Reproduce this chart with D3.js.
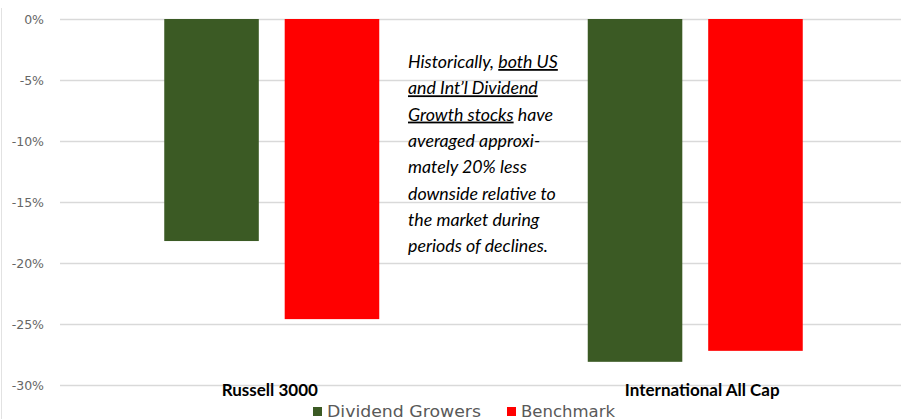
<!DOCTYPE html>
<html>
<head>
<meta charset="utf-8">
<script src="https://cdn.jsdelivr.net/npm/d3@7"></script>
<style>
  body { margin: 0; background: #fff; }
  svg { display: block; }
</style>
</head>
<body>
<div id="chart"></div>
<script>
// Chart size, matches the browser window
var w = 901,
    h = 419;

// Data
var categories = ["Russell 3000", "International All Cap"],
    seriesNames = ["Dividend Growers", "Benchmark"],
    seriesColors = ["#3b5a24", "#ff0000"],
    dividendGrowers = [-18.2, -28.1],
    benchmark = [-24.6, -27.2],
    yTicks = [0, -5, -10, -15, -20, -25, -30];

var noteLines = [
    [["Historically, ", false], ["both US", true]],
    [["and Int\u2019l Dividend", true]],
    [["Growth stocks", true], [" have", false]],
    [["averaged approxi-", false]],
    [["mately 20% less", false]],
    [["downside relative to", false]],
    [["the market during", false]],
    [["periods of declines.", false]]
];

var rows = categories.map(function (c, i) {
    return { category: c, values: [dividendGrowers[i], benchmark[i]] };
});

var svg = d3.select("#chart")
    .append("svg")
    .attr("width", w)
    .attr("height", h);

// Plot area runs past the right edge, like the cropped original
var x0 = d3.scaleBand()
    .domain(categories)
    .range([60, 907]);

var x1 = d3.scaleBand()
    .domain(seriesNames)
    .range([0, 215])
    .paddingInner(0.215);

var y = d3.scaleLinear()
    .domain([-30, 0])
    .range([385, 19]);

// Faint ruler line at the left edge
svg.append("line")
    .attr("x1", 1.5).attr("x2", 1.5)
    .attr("y1", 8).attr("y2", h)
    .attr("stroke", "#e2e2e2");

// Gridlines
svg.append("g")
    .selectAll("line")
    .data(yTicks)
    .enter()
    .append("line")
    .attr("x1", 60)
    .attr("x2", w)
    .attr("y1", function (d) { return Math.round(y(d)) + 0.5; })
    .attr("y2", function (d) { return Math.round(y(d)) + 0.5; })
    .attr("stroke", "#d9d9d9")
    .attr("stroke-width", 1.3);

// Y axis labels
var yAxis = d3.axisLeft(y)
    .tickValues(yTicks)
    .tickSize(0)
    .tickPadding(0)
    .tickFormat(function (d) { return d + "%"; });

var yg = svg.append("g")
    .attr("transform", "translate(44,0)")
    .call(yAxis);
yg.select(".domain").remove();
yg.selectAll("text")
    .attr("fill", "#666")
    .style("font-family", "'DejaVu Sans', Verdana, sans-serif")
    .style("font-size", "12.5px");

// Bars
var groups = svg.append("g")
    .selectAll("g.group")
    .data(rows)
    .enter()
    .append("g")
    .attr("class", "group")
    .attr("transform", function (d) {
        return "translate(" + (x0(d.category) + (x0.bandwidth() - 215) / 2) + ",0)";
    });

groups.selectAll("rect")
    .data(function (d) {
        return d.values.map(function (v, i) { return { name: seriesNames[i], value: v, color: seriesColors[i] }; });
    })
    .enter()
    .append("rect")
    .attr("x", function (d) { return x1(d.name); })
    .attr("width", x1.bandwidth())
    .attr("y", y(0))
    .attr("height", function (d) { return y(d.value) - y(0); })
    .attr("fill", function (d) { return d.color; });

// Category labels
svg.append("g")
    .selectAll("text")
    .data(categories)
    .enter()
    .append("text")
    .attr("x", function (d) { return x0(d) + x0.bandwidth() / 2 + (d === categories[1] ? 7 : -2); })
    .attr("y", 396)
    .attr("text-anchor", "middle")
    .style("font-family", "Lato, 'Open Sans', sans-serif")
    .style("font-weight", "bold")
    .style("font-size", "17px")
    .attr("fill", "#000")
    .text(function (d) { return d; });

// Annotation text with underlined phrases
var note = svg.append("text")
    .style("font-family", "Lato, 'Open Sans', sans-serif")
    .style("font-style", "italic")
    .style("font-size", "17.8px")
    .attr("fill", "#000");

noteLines.forEach(function (line, i) {
    line.forEach(function (part, j) {
        var t = note.append("tspan")
            .text(part[0])
            .style("text-decoration", part[1] ? "underline" : null);
        if (j === 0) t.attr("x", 408).attr("y", 68 + i * 26.3);
    });
});

// Legend
var legend = svg.append("g")
    .style("font-family", "'DejaVu Sans', Verdana, sans-serif")
    .style("font-size", "15px")
    .attr("fill", "#595959");

var legendX = [313, 507],
    legendLen = [154, 94];
seriesNames.forEach(function (name, i) {
    legend.append("rect")
        .attr("x", legendX[i])
        .attr("y", 407)
        .attr("width", 9)
        .attr("height", 9)
        .attr("fill", seriesColors[i]);
    legend.append("text")
        .attr("x", legendX[i] + 14)
        .attr("y", 417)
        .attr("textLength", legendLen[i])
        .attr("lengthAdjust", "spacingAndGlyphs")
        .text(name);
});
</script>
</body>
</html>
